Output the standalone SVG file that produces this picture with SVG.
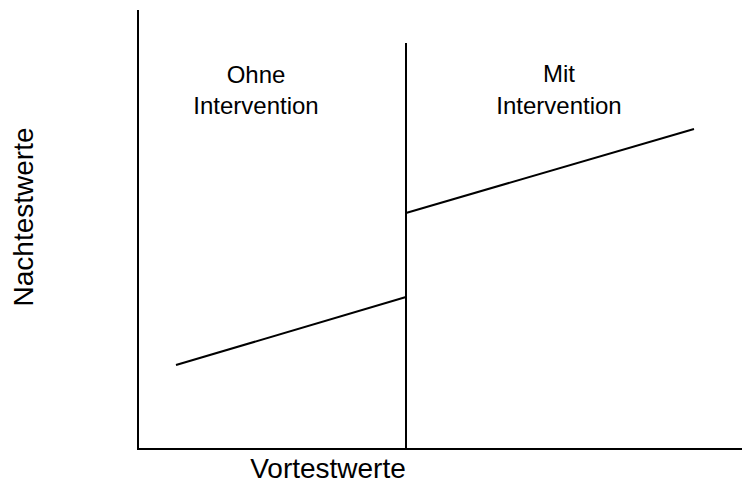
<svg xmlns="http://www.w3.org/2000/svg" width="742" height="482" viewBox="0 0 742 482">
<style>
.ln{stroke:#000;stroke-width:2;fill:none;stroke-linecap:butt}
text{font-family:"Liberation Sans",Arial,sans-serif;fill:#000;text-anchor:middle}
.s{font-size:24px}
.l{font-size:28px}
</style>
<rect width="742" height="482" fill="#fff"/>
<g id="axes">
<path class="ln" d="M138 10 V449 H742"/>
<path class="ln" d="M406 43 V449"/>
</g>
<g id="connectors">
<line class="ln" x1="176" y1="365" x2="406" y2="297"/>
<line class="ln" x1="406" y1="213" x2="694" y2="129"/>
</g>
<g id="ohne"><text class="s" x="256" y="83">Ohne</text><text class="s" x="256" y="114">Intervention</text></g>
<g id="mit"><text class="s" x="559" y="82">Mit</text><text class="s" x="559" y="114">Intervention</text></g>
<g id="xlabel"><text class="l" x="328" y="478">Vortestwerte</text></g>
<g id="ylabel"><text class="l" transform="translate(33 217) rotate(-90)">Nachtestwerte</text></g>
</svg>
